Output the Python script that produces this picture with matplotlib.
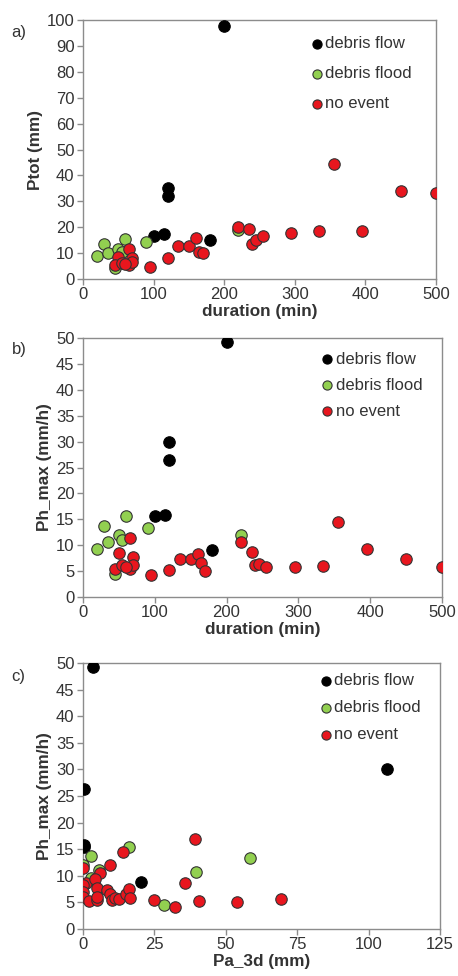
import matplotlib
matplotlib.use("Agg")
import matplotlib.pyplot as plt

# --------------------------
# data: panel a (duration vs Ptot)
# --------------------------
flow_dur = [200, 120, 120, 100, 115, 180]
flow_ptot = [97.5, 35, 32, 16.5, 17.5, 15]
flow_phmax = [49.3, 30, 26.5, 15.6, 15.8, 9]
flow_pa3d = [3.4, 106.6, 0.3, 0.3, 0.3, 20.3]
flow_phmax_c = [49.3, 30, 26.4, 15.5, 15.8, 8.9]

flood_dur = [20, 30, 35, 50, 55, 60, 90, 45, 220]
flood_ptot = [9, 13.6, 10.2, 11.7, 10.5, 15.4, 14.3, 4.2, 19]
flood_phmax = [9.3, 13.8, 10.7, 12, 11, 15.6, 13.4, 4.5, 12]
flood_pa3d = [3, 2.8, 39.5, 0.2, 5.5, 16, 58.5, 28.5, 3]
flood_phmax_c = [9.3, 13.8, 10.7, 12, 11, 15.5, 13.3, 4.5, 9.6]

none_dur = [65, 50, 70, 45, 55, 65, 70, 60, 95, 120, 135, 150, 160, 165, 170,
            220, 235, 240, 245, 255, 295, 335, 355, 395, 450, 500]
none_ptot = [11.5, 8.4, 8, 5.4, 6, 5.4, 6.4, 5.8, 4.8, 8, 12.9, 12.9, 15.7, 10.5, 10.2,
             20, 19.3, 13.5, 15.2, 16.8, 17.8, 18.5, 44.3, 18.7, 34, 33.2]
none_phmax = [11.4, 8.5, 7.7, 5.5, 6.1, 5.4, 6.2, 5.8, 4.2, 5.3, 7.4, 7.4, 8.4, 6.6, 5.1,
              10.6, 8.6, 6.1, 6.3, 5.7, 5.7, 5.9, 14.5, 9.3, 7.3, 5.8]

# panel c (Pa_3d vs Ph_max), no event
none_pa3d = [39.1, 14, 9.6, 0.2, 6, 1, 4.3, 0.2, 0.2, 0.2, 2, 5, 5, 5, 8.4, 9.6,
             10.3, 11.3, 12.5, 15.2, 16.3, 16.5, 25, 32.3, 35.6, 40.7, 54, 69.5]
none_phmax_c = [16.9, 14.4, 12, 11.4, 10.6, 8.6, 9.3, 8.3, 7, 6.1, 5.3, 7.7, 5.5, 6.1,
                7.3, 6.5, 5.4, 5.8, 5.6, 6.5, 7.5, 5.9, 5.5, 4.2, 8.6, 5.3, 5.1, 5.7]

RED = "#e8161e"
GREEN = "#92d050"
EDGE = "#333333"
AXC = "#8c8c8c"
TXT = "#333333"

plt.rcParams["font.family"] = ["Liberation Sans", "DejaVu Sans"]


def style_axes(ax, xmax, xstep, ymax, ystep):
    ax.set_xlim(0, xmax)
    ax.set_ylim(0, ymax)
    ax.set_xticks(range(0, xmax + 1, xstep))
    ax.set_yticks(range(0, ymax + 1, ystep))
    for sp in ax.spines.values():
        sp.set_color(AXC)
        sp.set_linewidth(1.0)
    ax.tick_params(direction="out", length=4, width=1.0, color=AXC,
                   labelsize=12, labelcolor=TXT, pad=2)


def draw_panel(ax, fx, fy, gx, gy, rx, ry):
    ax.scatter(fx, fy, s=68, c="black", edgecolors="black", linewidths=0.8,
               zorder=3, label="debris flow")
    ax.scatter(gx, gy, s=68, c=GREEN, edgecolors=EDGE, linewidths=0.8,
               zorder=3, label="debris flood")
    ax.scatter(rx, ry, s=68, c=RED, edgecolors=EDGE, linewidths=0.8,
               zorder=4, label="no event")
    ax.set_facecolor("white")


fig = plt.figure(figsize=(4.58, 9.76), dpi=100)

ax_a = fig.add_axes([0.181, 0.7141, 0.771, 0.2654])
ax_b = fig.add_axes([0.181, 0.3883, 0.784, 0.2654])
ax_c = fig.add_axes([0.181, 0.0482, 0.7795, 0.2725])

lab = dict(fontsize=12.3, fontweight="bold", color=TXT)

draw_panel(ax_a, flow_dur, flow_ptot, flood_dur, flood_ptot, none_dur, none_ptot)
style_axes(ax_a, 500, 100, 100, 10)
ax_a.set_ylabel("Ptot (mm)", labelpad=3, **lab)
ax_a.set_xlabel("duration (min)", labelpad=1, **lab)

draw_panel(ax_b, flow_dur, flow_phmax, flood_dur, flood_phmax, none_dur, none_phmax)
style_axes(ax_b, 500, 100, 50, 5)
ax_b.set_ylabel("Ph_max (mm/h)", labelpad=3, **lab)
ax_b.set_xlabel("duration (min)", labelpad=1, **lab)

draw_panel(ax_c, flow_pa3d, flow_phmax_c, flood_pa3d, flood_phmax_c, none_pa3d, none_phmax_c)
style_axes(ax_c, 125, 25, 50, 5)
ax_c.set_ylabel("Ph_max (mm/h)", labelpad=3, **lab)
ax_c.set_xlabel("Pa_3d (mm)", labelpad=1, **lab)

for ax, anchor, sp in [(ax_a, (0.61, 0.975), 0.9), (ax_b, (0.63, 0.985), 0.65),
                       (ax_c, (0.63, 1.0), 0.72)]:
    leg = ax.legend(loc="upper left", bbox_to_anchor=anchor, frameon=False,
                    fontsize=12, handletextpad=0.0, handlelength=1.0,
                    labelspacing=sp, borderaxespad=0.2, markerscale=0.8)
    for t in leg.get_texts():
        t.set_color(TXT)

fig.text(0.025, 0.962, "a)", fontsize=12, color=TXT)
fig.text(0.025, 0.637, "b)", fontsize=12, color=TXT)
fig.text(0.025, 0.302, "c)", fontsize=12, color=TXT)

fig.savefig("out.png", dpi=100, facecolor="white")
